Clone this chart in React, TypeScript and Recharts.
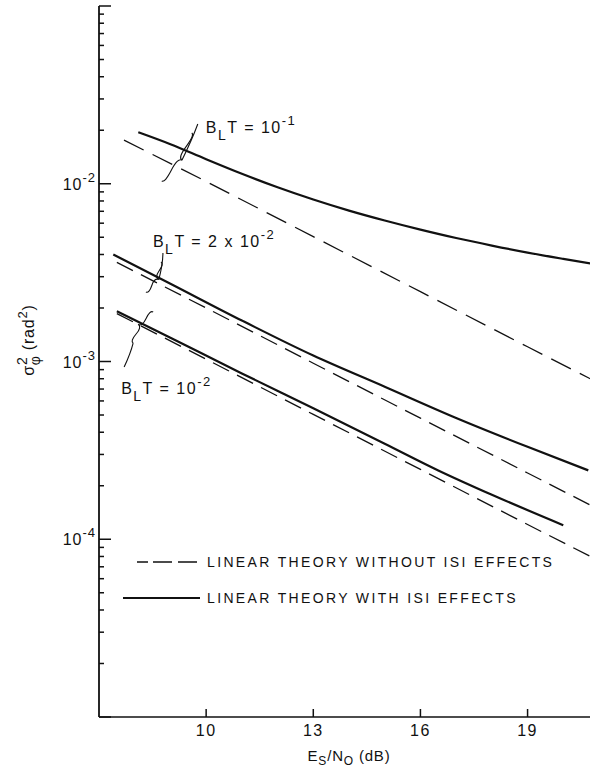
import React from "react";
import { LineChart, Line, XAxis, YAxis, ReferenceDot, Legend } from "recharts";

const FONT = '"Liberation Sans", Arial, Helvetica, sans-serif';
const INK = "#111";

// Es/N0 in dB against phase-error variance (rad^2), one pair per curve
const esNoIsi01 = [8.1, 9, 10, 11, 12, 13, 14, 15, 16, 17, 18, 19, 20, 21];
const varIsi01 = [0.0195, 0.0167, 0.01374, 0.01138, 0.00955, 0.00815, 0.00706, 0.00621, 0.00552, 0.00495, 0.00449, 0.0041, 0.00378, 0.0035];
const esNoLin01 = [7.7, 10, 13, 16, 19, 21];
const varLin01 = [0.0176, 0.0103, 0.00504, 0.00247, 0.00121, 0.000755];

const esNoIsi002 = [7.4, 9, 11, 13, 15, 17, 19, 20.7];
const varIsi002 = [0.004, 0.00274, 0.0017, 0.00108, 0.000721, 0.000481, 0.000331, 0.000244];
const esNoLin002 = [7.5, 10, 13, 16, 19, 21];
const varLin002 = [0.00361, 0.002, 0.000978, 0.00048, 0.000236, 0.000147];

const esNoIsi001 = [7.5, 9, 11, 13, 15, 16.5, 18, 20];
const varIsi001 = [0.00192, 0.00136, 0.000857, 0.000545, 0.000345, 0.000244, 0.000178, 0.00012];
const esNoLin001 = [7.5, 10, 13, 16, 19, 21];
const varLin001 = [0.00186, 0.00103, 0.000504, 0.000247, 0.000121, 0.0000756];

const xTicks = [10, 13, 16, 19];
const yDecades = [1e-5, 1e-4, 1e-3, 1e-2];
const yMantissas = [1, 2, 3, 4, 5, 6, 7, 8, 9];
const yLabelled = [-4, -3, -2];

const legendItems = [
  { name: "LINEAR THEORY WITHOUT ISI EFFECTS", dash: "11 5 19 6 19 100", from: 17, width: 1.3 },
  { name: "LINEAR THEORY WITH ISI EFFECTS", dash: undefined, from: 3, width: 2.2 },
];

const zip = (xs: number[], ys: number[]) => xs.map((x, i) => ({ x, v: ys[i] }));

const yTicks = [...yDecades.flatMap((d) => yMantissas.map((m) => d * m)), 1e-1];

// curve labels: anchor in data units, brace and leader offsets in px from the anchor
const bandwidthNotes = [
  { esNo: 9.99, sigma: 0.0193, mant: "10", exp: "-1", p1: [-14, 0], p2: [-44, 48], side: -1, lead: [-8, -9], leadFromEnd: false },
  { esNo: 8.51, sigma: 0.00441, mant: "2 x 10", exp: "-2", p1: [8, 15], p2: [-7, 45], side: -1, lead: [10, 6], leadFromEnd: false },
  { esNo: 7.62, sigma: 0.000656, mant: "10", exp: "-2", p1: [32, -82], p2: [12, -51], side: 1, lead: [3, -27], leadFromEnd: true },
];

function bracePath(x1: number, y1: number, x2: number, y2: number, w: number, side: number) {
  const len = Math.hypot(x2 - x1, y2 - y1);
  const ux = (x2 - x1) / len;
  const uy = (y2 - y1) / len;
  const nx = -uy * side;
  const ny = ux * side;
  const q = 0.6;
  const p = (t: number, s: number) =>
    `${(x1 + ux * len * t + nx * w * s).toFixed(1)},${(y1 + uy * len * t + ny * w * s).toFixed(1)}`;
  const tip = p(0.5, 1);
  return {
    d: `M${x1},${y1} Q${p(0, q)} ${p(0.25, 1 - q)} T${tip} M${x2},${y2} Q${p(1, q)} ${p(0.75, 1 - q)} T${tip}`,
    tip: tip.split(",").map(Number),
  };
}

const BandwidthNote = (props: any) => {
  const { cx, cy, note } = props;
  const b = bracePath(cx + note.p1[0], cy + note.p1[1], cx + note.p2[0], cy + note.p2[1], 6, note.side);
  const start = note.leadFromEnd ? [cx + note.p2[0], cy + note.p2[1]] : b.tip;
  const end = [cx + note.lead[0], cy + note.lead[1]];
  return (
    <g>
      <path d={b.d} fill="none" stroke={INK} strokeWidth={1.1} />
      <path
        d={`M${start[0]},${start[1]} Q${(start[0] + end[0]) / 2 + 2},${(start[1] + end[1]) / 2 - 2} ${end[0]},${end[1]}`}
        fill="none"
        stroke={INK}
        strokeWidth={1.1}
      />
      <text x={cx} y={cy} fontFamily={FONT} fontSize={16} fill={INK} letterSpacing={1.5}>
        <tspan>B</tspan>
        <tspan dy={7} fontSize={14}>L</tspan>
        <tspan dy={-7}>{`T = ${note.mant}`}</tspan>
        <tspan dy={-8} fontSize={13}>{note.exp}</tspan>
      </text>
    </g>
  );
};

const YTick = (props: any) => {
  const { x, y, payload } = props;
  const lg = Math.log10(payload.value);
  const major = Math.abs(lg - Math.round(lg)) < 1e-6;
  const exp = Math.round(lg);
  return (
    <g>
      <line x1={x} y1={y} x2={x + (major ? 12 : 5)} y2={y} stroke={INK} strokeWidth={1.5} />
      {major && yLabelled.includes(exp) && (
        <text x={x - 3} y={y + 6} textAnchor="end" fontFamily={FONT} fontSize={16} fill={INK} letterSpacing={1}>
          10
          <tspan dy={-8} fontSize={13}>{`-${-exp}`}</tspan>
        </text>
      )}
    </g>
  );
};

const XTick = (props: any) => {
  const { x, y, payload } = props;
  return (
    <g>
      <line x1={x} y1={y} x2={x} y2={y - 8} stroke={INK} strokeWidth={1.5} />
      <text x={x} y={y + 19} textAnchor="middle" fontFamily={FONT} fontSize={16} fill={INK} letterSpacing={1.5}>
        {payload.value}
      </text>
    </g>
  );
};

const TopTick = (props: any) => {
  const { x, y } = props;
  return <line x1={x} y1={y} x2={x} y2={y + 8} stroke={INK} strokeWidth={1.5} />;
};

const XTitle = (props: any) => {
  const { viewBox } = props;
  const cx = viewBox.x + viewBox.width / 2;
  return (
    <text x={cx} y={viewBox.y + 44} textAnchor="middle" fontFamily={FONT} fontSize={15} fill={INK} letterSpacing={0.8}>
      E
      <tspan dy={4} fontSize={12}>S</tspan>
      <tspan dy={-4}>/N</tspan>
      <tspan dy={4} fontSize={12}>O</tspan>
      <tspan dy={-4}> (dB)</tspan>
    </text>
  );
};

const YTitle = (props: any) => {
  const { viewBox } = props;
  const x = viewBox.x + 34;
  const y = viewBox.y + 334;
  return (
    <text transform={`translate(${x},${y}) rotate(-90)`} textAnchor="middle" fontFamily={FONT} fontSize={16} fill={INK} letterSpacing={0.8}>
      σ
      <tspan dy={-7} fontSize={14}>2</tspan>
      <tspan dx={-9} dy={13} fontSize={14}>φ</tspan>
      <tspan dy={-6}> (rad</tspan>
      <tspan dy={-7} fontSize={13}>2</tspan>
      <tspan dy={7}>)</tspan>
    </text>
  );
};

const LegendBox = () => (
  <div style={{ fontFamily: FONT }}>
    {legendItems.map((item) => (
      <div key={item.name} style={{ display: "flex", alignItems: "center", height: 36 }}>
        <svg width={80} height={10}>
          <line x1={item.from} y1={5} x2={80} y2={5} stroke={INK} strokeWidth={item.width} strokeDasharray={item.dash} />
        </svg>
        <span style={{ marginLeft: 7, fontSize: 14, letterSpacing: 2.35, color: INK, whiteSpace: "nowrap" }}>{item.name}</span>
      </div>
    ))}
  </div>
);

export default function App() {
  const solid = { type: "monotone" as const, stroke: INK, strokeWidth: 2.2, dot: false, isAnimationActive: false };
  const dashed = { type: "linear" as const, stroke: INK, strokeWidth: 1.3, dot: false, isAnimationActive: false };
  return (
    <div style={{ position: "absolute", left: 0, top: 0, width: 590, height: 771, overflow: "hidden", background: "#fff" }}>
      <LineChart width={600} height={771} margin={{ top: 6, right: 1, left: 0, bottom: 0 }}>
        <XAxis
          dataKey="x"
          type="number"
          domain={[7, 21]}
          ticks={xTicks}
          interval={0}
          height={54}
          tickSize={0}
          tickMargin={0}
          tickLine={false}
          tick={XTick}
          axisLine={{ stroke: INK, strokeWidth: 1.6 }}
          allowDataOverflow
          label={{ content: XTitle }}
        />
        <XAxis
          xAxisId="top"
          orientation="top"
          dataKey="x"
          type="number"
          domain={[7, 21]}
          ticks={xTicks}
          interval={0}
          height={0}
          tickSize={0}
          tickMargin={0}
          tickLine={false}
          tick={TopTick}
          axisLine={{ stroke: INK, strokeWidth: 1.6 }}
          allowDataOverflow
        />
        <YAxis
          type="number"
          scale="log"
          domain={[1e-5, 1e-1]}
          allowDataOverflow
          ticks={yTicks}
          interval={0}
          width={99}
          tickSize={0}
          tickMargin={0}
          tickLine={false}
          tick={YTick}
          axisLine={{ stroke: INK, strokeWidth: 1.8 }}
          label={{ content: YTitle }}
        />
        <Legend
          content={LegendBox}
          layout="horizontal"
          verticalAlign="middle"
          align="center"
          wrapperStyle={{ left: 120, top: 544, width: 470 }}
        />
        <Line data={zip(esNoIsi01, varIsi01)} dataKey="v" {...solid} />
        <Line data={zip(esNoLin01, varLin01)} dataKey="v" {...dashed} strokeDasharray="22 10" />
        <Line data={zip(esNoIsi002, varIsi002)} dataKey="v" {...solid} />
        <Line data={zip(esNoLin002, varLin002)} dataKey="v" {...dashed} strokeDasharray="18 9" />
        <Line data={zip(esNoIsi001, varIsi001)} dataKey="v" {...solid} />
        <Line data={zip(esNoLin001, varLin001)} dataKey="v" {...dashed} strokeDasharray="18 9" />
        {bandwidthNotes.map((note, i) => (
          <ReferenceDot
            key={i}
            x={note.esNo}
            y={note.sigma}
            r={0}
            ifOverflow="visible"
            shape={(p: any) => <BandwidthNote {...p} note={note} />}
          />
        ))}
      </LineChart>
    </div>
  );
}
